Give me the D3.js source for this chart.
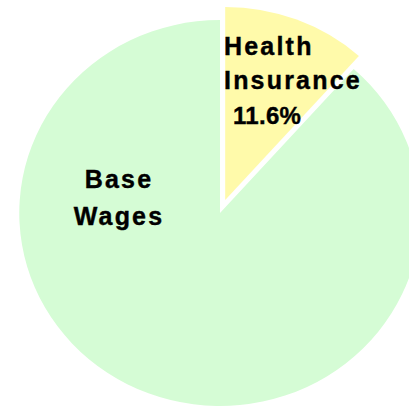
<!DOCTYPE html>
<html lang="en">
<head>
  <meta charset="utf-8">
  <script src="https://cdnjs.cloudflare.com/ajax/libs/d3/7.8.5/d3.min.js"></script>
  <title>Compensation Pie</title>
</head>
<style>
body { margin: 0; background: #fff; }
.label { font-family: "Liberation Sans", Arial, sans-serif; font-weight: bold; font-size: 25px; letter-spacing: 2.2px; fill: #000; stroke: #000; stroke-width: 0.4px; }
.pct { font-size: 24px; letter-spacing: 0.3px; }
</style>
<body>
  <div id="chart"></div>
</body>
</html>

<script>
  // slice data, clockwise from 12 o'clock
  const categories = ["Health Insurance", "Base Wages"];
  const values = [11.6, 88.4];
  const colors = ["#fffaaa", "#d5fcd5"];
  const exploded = [14, 0];

  const width = 409, height = 409;
  const cx = 220, cy = 213, radius = 193, stretchX = 1.04;

  const svg = d3.select("#chart").append("svg").attr("width", width).attr("height", height);
  const g = svg.append("g").attr("transform", "translate(" + cx + "," + cy + ") scale(" + stretchX + ",1)");

  const pie = d3.pie().sort(null).value(function(d){ return d.value; });
  const arc = d3.arc().innerRadius(0).outerRadius(radius);

  const slices = categories.map(function(c, i){
    return { name: c, value: values[i], color: colors[i], explode: exploded[i] };
  });

  g.selectAll(".slice")
    .data(pie(slices))
    .enter()
    .append("path")
    .attr("class", "slice")
    .attr("d", arc)
    .attr("fill", function(d){ return d.data.color; })
    .attr("transform", function(d){
      const mid = (d.startAngle + d.endAngle) / 2;
      return "translate(" + (d.data.explode * Math.sin(mid)) + "," + (-d.data.explode * Math.cos(mid)) + ")";
    });

  // labels
  const labels = svg.append("g");
  labels.append("text").attr("class", "label").attr("x", 224).attr("y", 55).text("Health");
  labels.append("text").attr("class", "label").attr("x", 224).attr("y", 89).text("Insurance");
  labels.append("text").attr("class", "label pct").attr("x", 233).attr("y", 124).text(values[0].toFixed(1) + "%");
  labels.append("text").attr("class", "label").attr("x", 119).attr("y", 188).attr("text-anchor", "middle").text("Base");
  labels.append("text").attr("class", "label").attr("x", 119).attr("y", 225).attr("text-anchor", "middle").text("Wages");
</script>
